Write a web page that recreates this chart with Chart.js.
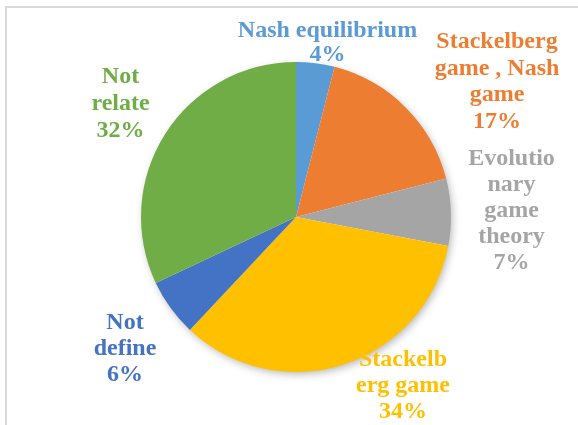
<!DOCTYPE html>
<html>
<head>
<meta charset="utf-8">
<script src="https://cdn.jsdelivr.net/npm/chart.js@4.4.1/dist/chart.umd.min.js"></script>
<style>
    html, body { margin: 0; padding: 0; background: #fff; }
    #wrap { position: relative; width: 578px; height: 425px; overflow: hidden; }
    #frame { position: absolute; left: 5px; top: 6px; width: 600px; height: 450px; border: 2px solid #d9d9d9; }
    canvas { position: absolute; left: 0; top: 0; }
</style>
</head>
<body>
<div id="wrap">
    <div id="frame"></div>
    <canvas id="chart_topic" width="578" height="425"></canvas>
</div>
<script>
// categories, wrapped the way they are printed next to the pie
var topic_name = [
    ["Nash equilibrium"],
    ["Stackelberg", "game , Nash", "game"],
    ["Evolutio", "nary", "game", "theory"],
    ["Stackelb", "erg game"],
    ["Not", "define"],
    ["Not", "relate"]
];
var share = [4, 17, 7, 34, 6, 32];
var slice_color = ['#5B9BD5', '#ED7D31', '#A5A5A5', '#FFC000', '#4472C4', '#70AD47'];

// label blocks: [dx, dy] of the first baseline from the pie centre, line height
var label_offset = [
    [31.5, -180, 23.5],
    [201, -169, 26.5],
    [215.5, -52, 26],
    [107, 149, 26],
    [-171, 112, 26],
    [-175.5, -134, 27]
];

var pieShadow = {
    id: 'pieShadow',
    beforeDatasetsDraw: function (chart) {
        var arc = chart.getDatasetMeta(0).data[0];
        var ctx = chart.ctx;
        ctx.save();
        ctx.shadowColor = 'rgba(0,0,0,0.3)';
        ctx.shadowBlur = 9;
        ctx.shadowOffsetX = 2;
        ctx.shadowOffsetY = 3;
        ctx.fillStyle = '#ffffff';
        ctx.beginPath();
        ctx.arc(arc.x, arc.y, arc.outerRadius - 1, 0, Math.PI * 2);
        ctx.fill();
        ctx.restore();
    }
};

var sliceLabels = {
    id: 'sliceLabels',
    afterDatasetsDraw: function (chart) {
        var arc = chart.getDatasetMeta(0).data[0];
        var ctx = chart.ctx;
        ctx.save();
        ctx.font = 'bold 24px "Liberation Serif", "Times New Roman", serif';
        ctx.textAlign = 'center';
        ctx.textBaseline = 'alphabetic';
        for (var i = 0; i < share.length; i++) {
            var lines = topic_name[i].concat([share[i] + '%']);
            var x = arc.x + label_offset[i][0];
            var y = arc.y + label_offset[i][1];
            ctx.fillStyle = slice_color[i];
            for (var j = 0; j < lines.length; j++) {
                ctx.fillText(lines[j], x, y + j * label_offset[i][2]);
            }
        }
        ctx.restore();
    }
};

var ctx = document.getElementById("chart_topic");
new Chart(ctx, {
    type: 'pie',
    data: {
        labels: topic_name.map(function (l) { return l.join(' '); }),
        datasets: [{
            data: share,
            backgroundColor: slice_color,
            borderWidth: 0
        }]
    },
    plugins: [pieShadow, sliceLabels],
    options: {
        responsive: false,
        animation: false,
        layout: {
            padding: { top: 62, bottom: 53, left: 141, right: 127 }
        },
        plugins: {
            legend: { display: false },
            tooltip: { enabled: false }
        }
    }
});
</script>
</body>
</html>
